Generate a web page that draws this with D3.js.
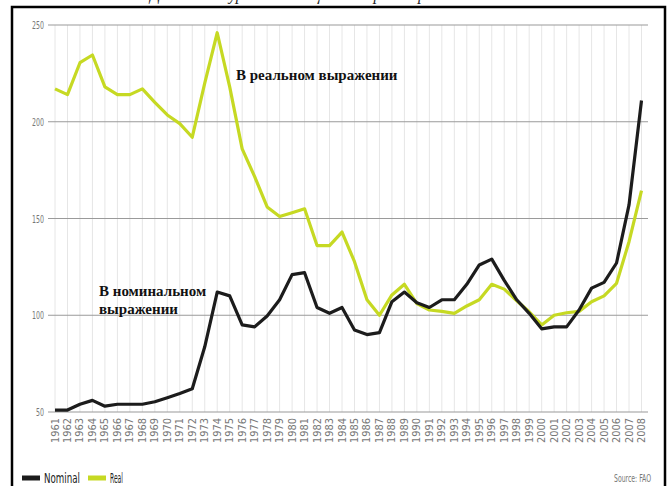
<!DOCTYPE html>
<html>
<head>
<meta charset="utf-8">
<script src="https://cdn.jsdelivr.net/npm/d3@7"></script>
<style>
  body { margin: 0; background: #fff; }
  svg { display: block; }
  .tick-lbl { font-family: "DejaVu Sans Condensed", "Liberation Sans Narrow", "DejaVu Sans", sans-serif; fill: #777; }
  .note { font-family: "Liberation Serif", "DejaVu Serif", serif; font-weight: bold; fill: #111; }
</style>
</head>
<body>
<svg id="chart" width="670" height="486"></svg>
<script>
const years = d3.range(1961, 2009)
const nominal = [51, 51, 54, 56, 53, 54, 54, 54, 55.3, 57.4, 59.6, 62, 83.7, 112, 110, 95, 94, 99.6, 108, 121,
  122, 104, 101, 104, 92.4, 90, 91, 107, 112, 106.5, 104, 108, 108, 116, 126, 129, 118, 108, 101, 93,
  94, 94, 102.7, 114, 117, 127, 157, 211]
const real = [217, 214, 230.5, 234.5, 218, 214, 214, 217, 210, 203.5, 199, 192, 220, 246, 218, 186, 171.6, 156, 151, 153,
  155, 136, 136, 143, 127.7, 108, 100, 110.5, 116, 106, 102.7, 102, 101, 104.8, 108, 116, 113.5, 107.5, 101.8, 95,
  100, 101.3, 102, 107, 110, 116.5, 138, 164.4]
const yTicks = [50, 100, 150, 200, 250]
const legendItems = ['Nominal', 'Real']
const colors = {Nominal: '#1c1c1c', Real: '#c6d923'}

const svg = d3.select('#chart')

const x = d3.scaleLinear().domain([1961, 2008]).range([55, 641.5])
const y = d3.scaleLinear().domain([50, 250]).range([412, 25])

// title remnant (cut at the top, as in the scan) + frame
svg.append('text')
  .attr('x', 150).attr('y', 0)
  .attr('font-family', 'Liberation Serif, serif')
  .attr('font-style', 'italic')
  .attr('font-size', 16)
  .attr('fill', '#222')
  .text('Динамика курсов пшеницы на мировом рынке')

svg.append('path')
  .attr('d', 'M12,490 L12,7 L665,7 L665,490')
  .attr('fill', 'none')
  .attr('stroke', '#000')
  .attr('stroke-width', 2.5)

// vertical grid
svg.append('g')
  .selectAll('line')
  .data(years)
  .join('line')
    .attr('x1', d => x(d)).attr('x2', d => x(d))
    .attr('y1', y(250)).attr('y2', y(50))
    .attr('stroke', '#e6e6e6')
    .attr('stroke-width', 1)

// horizontal grid
svg.append('g')
  .selectAll('line')
  .data(yTicks)
  .join('line')
    .attr('x1', 48).attr('x2', 648)
    .attr('y1', d => y(d)).attr('y2', d => y(d))
    .attr('stroke', '#9a9a9a')
    .attr('stroke-width', 1.2)

svg.append('g')
  .selectAll('text')
  .data(yTicks)
  .join('text')
    .attr('class', 'tick-lbl')
    .attr('x', 44).attr('y', d => y(d) + 4)
    .attr('text-anchor', 'end')
    .attr('font-size', 11)
    .attr('textLength', d => String(d).length * 4)
    .attr('lengthAdjust', 'spacingAndGlyphs')
    .text(d => d)

svg.append('g')
  .selectAll('text')
  .data(years)
  .join('text')
    .attr('class', 'tick-lbl')
    .attr('transform', d => `translate(${x(d) + 3.5},418) rotate(-90)`)
    .attr('text-anchor', 'end')
    .attr('font-size', 10.5)
    .attr('textLength', 25)
    .attr('lengthAdjust', 'spacingAndGlyphs')
    .text(d => d)

const line = d3.line()
  .x((d, i) => x(years[i]))
  .y(d => y(d))

svg.append('path')
  .datum(real)
  .attr('d', line)
  .attr('fill', 'none')
  .attr('stroke', colors.Real)
  .attr('stroke-width', 3.2)
  .attr('stroke-linejoin', 'round')

svg.append('path')
  .datum(nominal)
  .attr('d', line)
  .attr('fill', 'none')
  .attr('stroke', colors.Nominal)
  .attr('stroke-width', 3.2)
  .attr('stroke-linejoin', 'round')

// annotations
svg.append('text')
  .attr('class', 'note')
  .attr('x', 236).attr('y', 80)
  .attr('font-size', 15)
  .text('В реальном выражении')

const nomNote = svg.append('text')
  .attr('class', 'note')
  .attr('x', 99).attr('y', 296)
  .attr('font-size', 15)
nomNote.append('tspan').attr('x', 99).text('В номинальном')
nomNote.append('tspan').attr('x', 99).attr('dy', 18).text('выражении')

// legend
const legendW = {Nominal: 36, Real: 13}
const lg = svg.append('g')
  .selectAll('g')
  .data(legendItems)
  .join('g')
    .attr('transform', (d, i) => `translate(${22 + i * 66},478)`)
lg.append('line')
  .attr('x1', 0).attr('x2', 18)
  .attr('stroke', d => colors[d])
  .attr('stroke-width', 5)
lg.append('text')
  .attr('x', 22).attr('y', 5)
  .attr('font-family', 'DejaVu Sans Condensed, Liberation Sans Narrow, sans-serif')
  .attr('font-size', 14)
  .attr('fill', '#222')
  .attr('textLength', d => legendW[d])
  .attr('lengthAdjust', 'spacingAndGlyphs')
  .text(d => d)

svg.append('text')
  .attr('class', 'tick-lbl')
  .attr('x', 651).attr('y', 482)
  .attr('text-anchor', 'end')
  .attr('font-size', 10)
  .attr('textLength', 37)
  .attr('lengthAdjust', 'spacingAndGlyphs')
  .text('Source: FAO')
</script>
</body>
</html>
